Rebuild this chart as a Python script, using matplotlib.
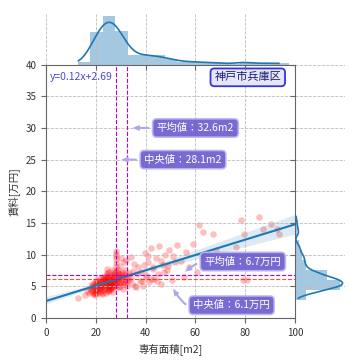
import matplotlib
matplotlib.use("Agg")
import matplotlib.pyplot as plt
import seaborn as sns

# 専有面積[m2] と 賃料[万円] (読み取り値)
area = [13.0, 15.5, 17.2,
        18.1, 18.4, 18.7, 19.0, 19.2, 19.5, 19.8, 20.0, 20.0, 20.3, 20.5, 20.8, 21.0, 21.0,
        21.2, 21.5, 21.7, 22.0, 22.0, 22.2, 22.4, 22.5, 22.7, 22.8, 18.9, 19.6, 21.3,
        23.0, 23.2, 23.4, 23.5, 23.7, 23.9, 24.0, 24.0, 24.2, 24.4, 24.5, 24.6, 24.8, 25.0,
        25.0, 25.1, 25.3, 25.4, 25.5, 25.6, 25.8, 26.0, 26.0, 26.1, 26.3, 26.4, 26.5, 26.7,
        26.8, 27.0, 27.0, 27.1, 27.3, 27.4, 27.5, 23.8, 24.3, 25.2, 25.9, 26.6,
        28.0, 28.0, 28.0, 28.0, 28.0, 28.1, 28.2, 28.4, 28.6, 28.9, 29.1, 29.3, 29.5, 29.8,
        30.0, 30.0, 30.2, 30.5, 30.7, 31.0, 31.2, 31.5, 31.7, 32.0, 32.2, 32.5, 32.8,
        33.5, 34.0, 34.6, 35.0, 35.4, 36.0, 36.5, 37.0, 37.6,
        38.2, 39.0, 39.6, 40.3, 41.0, 41.5, 42.2, 42.8,
        43.4, 44.0, 44.8, 45.5, 46.2, 47.0, 47.6,
        48.5, 49.5, 50.5, 51.6, 52.6,
        54.0, 55.2, 56.3, 57.5,
        59.0, 60.5, 61.6, 63.0,
        65.5, 67.2, 68.3, 71.0, 76.3,
        78.3, 79.0, 79.6, 80.6, 85.6, 87.0, 90.3, 92.9, 93.5,
        16.5, 17.8, 18.5, 19.3, 19.9, 20.6, 21.1, 21.8, 22.3, 22.9,
        23.3, 23.6, 24.1, 24.7, 25.2, 25.7, 26.2, 26.9, 27.2, 27.7,
        23.1, 24.9, 25.5, 26.3, 27.6, 24.4, 25.8, 22.6, 21.4, 20.2,
        28.3, 28.8, 29.4, 30.3, 30.9, 31.4, 32.4, 33.2, 34.3, 35.6,
        28.0, 28.0, 28.5, 29.0, 29.7, 30.6, 31.8, 24.0, 25.0, 26.0,
        18.3, 19.1, 20.1, 20.9, 21.6, 22.1, 29.2, 31.1,
        38.6, 39.3, 40.0, 40.8, 42.0, 43.0, 44.4, 46.0, 47.3, 49.0, 51.0]
rent = [3.1, 3.6, 4.0,
        4.2, 5.0, 3.8, 4.6, 5.5, 4.0, 5.2, 4.8, 6.0, 4.4, 5.3, 3.9, 4.9, 5.8,
        4.5, 6.3, 5.0, 4.3, 5.6, 4.7, 6.5, 5.1, 4.0, 5.9, 4.9, 3.6, 5.4,
        5.0, 4.4, 6.1, 5.5, 4.8, 6.6, 5.2, 3.9, 5.8, 4.6, 6.9, 5.4, 5.0, 6.2,
        4.3, 5.7, 7.2, 5.1, 4.7, 6.0, 5.5, 6.8, 4.5, 5.3, 7.5, 5.9, 4.9, 6.4,
        5.6, 4.1, 6.0, 7.0, 5.3, 6.5, 5.8, 5.7, 7.8, 4.2, 6.3, 5.0,
        10.5, 10.1, 9.3, 8.6, 7.4, 6.1, 5.2, 6.7, 4.8, 5.9, 7.1, 6.3, 5.0, 8.2,
        6.6, 9.5, 5.6, 7.0, 4.6, 6.2, 8.9, 5.4, 7.6, 6.0, 9.2, 5.1, 6.8,
        6.0, 9.6, 5.3, 7.4, 8.5, 4.9, 6.9, 8.0, 5.8,
        7.3, 5.1, 10.2, 6.4, 8.8, 5.6, 11.0, 7.8,
        6.2, 9.4, 7.0, 11.3, 5.4, 8.4, 10.0,
        7.6, 10.8, 6.0, 8.9, 11.5,
        9.0, 6.5, 10.4, 8.1,
        11.7, 7.2, 14.6, 13.6,
        9.5, 13.3, 10.7, 8.6, 11.2,
        15.4, 6.0, 13.3, 6.0, 16.0, 14.1, 14.9, 14.1, 13.3,
        4.3, 4.7, 5.3, 3.9, 5.7, 4.6, 5.2, 4.1, 5.4, 6.2,
        4.7, 5.9, 6.4, 4.4, 5.0, 6.6, 5.5, 4.8, 7.3, 5.2,
        6.3, 5.3, 4.6, 6.1, 6.9, 7.1, 5.4, 3.8, 5.6, 4.2,
        5.7, 6.5, 4.9, 7.3, 5.3, 6.6, 5.9, 7.1, 6.3, 5.0,
        9.8, 8.1, 6.0, 7.6, 5.5, 6.4, 7.0, 6.0, 6.5, 5.1,
        4.4, 5.1, 4.0, 5.6, 4.7, 5.2, 6.9, 5.7,
        5.9, 8.3, 6.8, 9.7, 6.1, 8.0, 5.9, 9.0, 7.2, 8.2, 9.8]

ward = "神戸市兵庫区"
equation = "y=0.12x+2.69"
mean_area, median_area = 32.6, 28.1
mean_rent, median_rent = 6.7, 6.1

plt.rcParams["font.family"] = ["Noto Sans CJK JP", "DejaVu Sans"]
plt.rcParams["axes.grid"] = True
plt.rcParams["grid.linestyle"] = "--"
plt.rcParams["grid.color"] = "#bbbbbb"
plt.rcParams["grid.linewidth"] = 0.6
plt.rcParams["axes.edgecolor"] = "#666666"
plt.rcParams["xtick.color"] = "#666666"
plt.rcParams["ytick.color"] = "#666666"
plt.rcParams["xtick.labelcolor"] = "#333333"
plt.rcParams["ytick.labelcolor"] = "#333333"
plt.rcParams["xtick.labelsize"] = 7
plt.rcParams["ytick.labelsize"] = 7

g = sns.JointGrid(x=area, y=rent, height=3.6, ratio=5, space=0,
                  xlim=(0, 100), ylim=(0, 40))
g.plot_joint(sns.regplot, truncate=False, seed=0, color="C0",
             scatter_kws={"color": "red", "alpha": 0.25, "s": 22, "linewidths": 0},
             line_kws={"lw": 1.5})
sns.histplot(x=area, ax=g.ax_marg_x, binwidth=5, binrange=(12.7, 97.7), kde=True,
             kde_kws={"bw_adjust": 0.65}, color="C0", alpha=0.4, linewidth=0,
             line_kws={"lw": 1.2})
sns.histplot(y=rent, ax=g.ax_marg_y, binwidth=1.55, binrange=(2.8, 17.0), kde=True,
             kde_kws={"bw_adjust": 0.55}, color="C0", alpha=0.4, linewidth=0,
             line_kws={"lw": 1.2})
g.ax_marg_x.set_ylabel("")
g.ax_marg_y.set_xlabel("")

fig = g.fig
fig.set_dpi(100)
fig.set_size_inches(3.6, 3.6)
fig.subplots_adjust(left=0.128, right=0.958, bottom=0.117, top=0.961)

ax = g.ax_joint
ax.set_xlim(0, 100)
ax.set_ylim(0, 40)
ax.set_xlabel("専有面積[m2]", fontsize=7.5, color="#333333")
ax.set_ylabel("賃料[万円]", fontsize=7.5, color="#333333")
ax.set_xticks([0, 20, 40, 60, 80, 100])
ax.set_yticks([0, 5, 10, 15, 20, 25, 30, 35, 40])

ax.axvline(median_area, color="m", ls="--", lw=0.8)
ax.axvline(mean_area, color="m", ls="--", lw=0.8)
ax.axhline(mean_rent, color="m", ls="--", lw=0.8)
ax.axhline(median_rent, color="red", ls="--", lw=0.8, alpha=0.7)

ax.text(1.5, 38, equation, color="#4b4bd6", fontsize=7.5, ha="left", va="center")
ax.text(81, 38, ward, color="#1a1a6e", fontsize=8, ha="center", va="center",
        bbox=dict(boxstyle="round,pad=0.35", fc="#e6e6fa", ec="#3535dd", lw=1.3))

box = dict(boxstyle="round,pad=0.4", fc="#6a5acd", ec="#b8b8f2", lw=1.2, alpha=0.9)
arrow = dict(arrowstyle="simple,head_length=0.7,head_width=0.6,tail_width=0.2",
             fc="#aaaaea", ec="none")
ax.annotate(f"平均値：{mean_area}m2", xy=(mean_area + 1, 30), xytext=(60, 30),
            ha="center", va="center", color="white", fontsize=7.5,
            bbox=box, arrowprops=arrow)
ax.annotate(f"中央値：{median_area}m2", xy=(median_area + 1, 25), xytext=(55, 25),
            ha="center", va="center", color="white", fontsize=7.5,
            bbox=box, arrowprops=arrow)
ax.annotate(f"平均値：{mean_rent}万円", xy=(55, 7.0), xytext=(79, 8.9),
            ha="center", va="center", color="white", fontsize=7.5, bbox=box,
            arrowprops=dict(arrow, connectionstyle="arc3,rad=0.3"))
ax.annotate(f"中央値：{median_rent}万円", xy=(50.5, 5.0), xytext=(74.5, 2.0),
            ha="center", va="center", color="white", fontsize=7.5, bbox=box,
            arrowprops=dict(arrow, connectionstyle="arc3,rad=-0.5"))

fig.savefig("out.png", dpi=100)
